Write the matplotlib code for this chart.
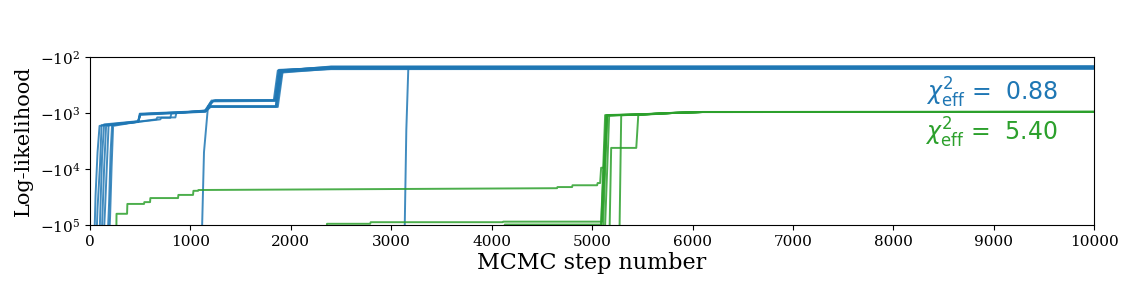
import matplotlib
matplotlib.use("Agg")
import matplotlib.pyplot as plt

plt.rcParams['font.family'] = 'DejaVu Serif'
plt.rcParams['mathtext.fontset'] = 'dejavuserif'

# walker traces: (steps, log-likelihood) breakpoints
# values below -1e5 sit under the plot window
blue_walkers = [
    ([0, 40, 55, 75, 95, 480, 500, 1140, 1200, 1250, 1830, 1870, 2400, 10000],
     [-3e5, -3e5, -3e4, -5e3, -1700, -1450, -1050, -930, -650, -590, -590, -175, -150, -146]),
    ([0, 60, 75, 100, 115, 480, 495, 1150, 1210, 1840, 1880, 2400, 10000],
     [-3e5, -3e5, -5e4, -8e3, -1650, -1420, -1030, -920, -600, -590, -170, -155, -152]),
    ([0, 90, 105, 120, 140, 480, 500, 1150, 1220, 1845, 1890, 2400, 10000],
     [-3e5, -3e5, -4e4, -6e3, -1600, -1400, -1060, -940, -620, -610, -180, -160, -158]),
    ([0, 110, 125, 140, 160, 660, 670, 850, 860, 1150, 1200, 1850, 1900, 2400, 10000],
     [-3e5, -3e5, -6e4, -1e4, -1700, -1300, -1200, -1200, -1000, -900, -760, -760, -185, -165, -163]),
    ([0, 130, 150, 170, 185, 700, 710, 800, 810, 1150, 1200, 1860, 1910, 2400, 10000],
     [-3e5, -3e5, -5e4, -7e3, -1650, -1300, -1220, -1220, -1020, -910, -770, -770, -190, -162, -160]),
    ([0, 170, 190, 205, 220, 480, 500, 1150, 1200, 1870, 1920, 2400, 10000],
     [-3e5, -3e5, -4e4, -5e3, -1600, -1420, -1080, -950, -780, -780, -175, -148, -148]),
    ([0, 185, 200, 215, 230, 480, 500, 1150, 1230, 1850, 1890, 2400, 10000],
     [-3e5, -3e5, -7e4, -9e3, -1700, -1430, -1050, -930, -600, -595, -172, -154, -155]),
    ([0, 1110, 1135, 1175, 1850, 1900, 2400, 10000],
     [-3e5, -3e5, -5e3, -760, -760, -178, -157, -157]),
    ([0, 3130, 3150, 3170, 10000],
     [-3e5, -3e5, -2e3, -156, -151]),
]

green_walkers = [
    ([0, 260, 264, 369, 372, 538, 541, 598, 601, 877, 880, 1026, 1030, 1076, 1080,
      4651, 4655, 4801, 4805, 5050, 5055, 5080, 5090, 5120, 5150, 5500, 5800, 6100, 10000],
     [-3e5, -3e5, -6.3e4, -6.3e4, -4.2e4, -4.2e4, -3.9e4, -3.9e4, -3.3e4, -3.3e4, -2.9e4,
      -2.9e4, -2.45e4, -2.45e4, -2.37e4, -2.2e4, -2.1e4, -2.1e4, -1.95e4, -1.95e4, -1.78e4,
      -1.78e4, -9.5e3, -9.5e3, -1100, -1060, -1000, -960, -955]),
    ([0, 2350, 2360, 2790, 2795, 4110, 4115, 5100, 5150, 5500, 5800, 6100, 10000],
     [-3e5, -3e5, -9.5e4, -9.5e4, -8.9e4, -8.9e4, -8.7e4, -8.7e4, -1110, -1060, -1000, -962, -958]),
    ([0, 4125, 4130, 5090, 5140, 5500, 5800, 6100, 10000],
     [-3e5, -3e5, -9.8e4, -9.8e4, -1100, -1055, -995, -958, -955]),
    ([0, 5080, 5130, 5500, 5800, 6100, 10000],
     [-3e5, -3e5, -1090, -1050, -995, -960, -956]),
    ([0, 5100, 5150, 5500, 5800, 6100, 10000],
     [-3e5, -3e5, -1100, -1060, -1000, -962, -957]),
    ([0, 5120, 5170, 5500, 5800, 6100, 10000],
     [-3e5, -3e5, -1110, -1065, -1000, -960, -954]),
    ([0, 5170, 5190, 5440, 5460, 5800, 6100, 10000],
     [-3e5, -3e5, -4200, -4200, -1090, -1000, -962, -958]),
    ([0, 5270, 5290, 5500, 5800, 6100, 10000],
     [-3e5, -3e5, -1100, -1062, -1000, -961, -957]),
]

chi2_labels = [r'$\chi^2_{\rm eff}$ =  0.88', r'$\chi^2_{\rm eff}$ =  5.40']
blue = '#1f77b4'
green = '#2ca02c'

fig, ax = plt.subplots(figsize=(11.28, 2.82), dpi=100)
fig.subplots_adjust(left=0.0798, right=0.970, top=0.798, bottom=0.202)

for steps, lnl in blue_walkers:
    ax.plot(steps, lnl, color=blue, lw=1.4, alpha=0.85)
for steps, lnl in green_walkers:
    ax.plot(steps, lnl, color=green, lw=1.4, alpha=0.85)

ax.set_yscale('symlog')
ax.set_ylim(-1e5, -1e2)
ax.set_yticks([-1e5, -1e4, -1e3, -1e2])
ax.set_xlim(0, 10000)
ax.set_xticks(range(0, 10001, 1000))
ax.tick_params(labelsize=11)

ax.set_xlabel('MCMC step number', fontsize=16, labelpad=2)
ax.set_ylabel('Log-likelihood', fontsize=15, labelpad=5)

ax.text(0.964, 0.786, chi2_labels[0], transform=ax.transAxes, ha='right', va='center',
        color=blue, fontsize=17, family='DejaVu Sans', math_fontfamily='dejavusans')
ax.text(0.964, 0.548, chi2_labels[1], transform=ax.transAxes, ha='right', va='center',
        color=green, fontsize=17, family='DejaVu Sans', math_fontfamily='dejavusans')

fig.savefig('out.png', dpi=100)
